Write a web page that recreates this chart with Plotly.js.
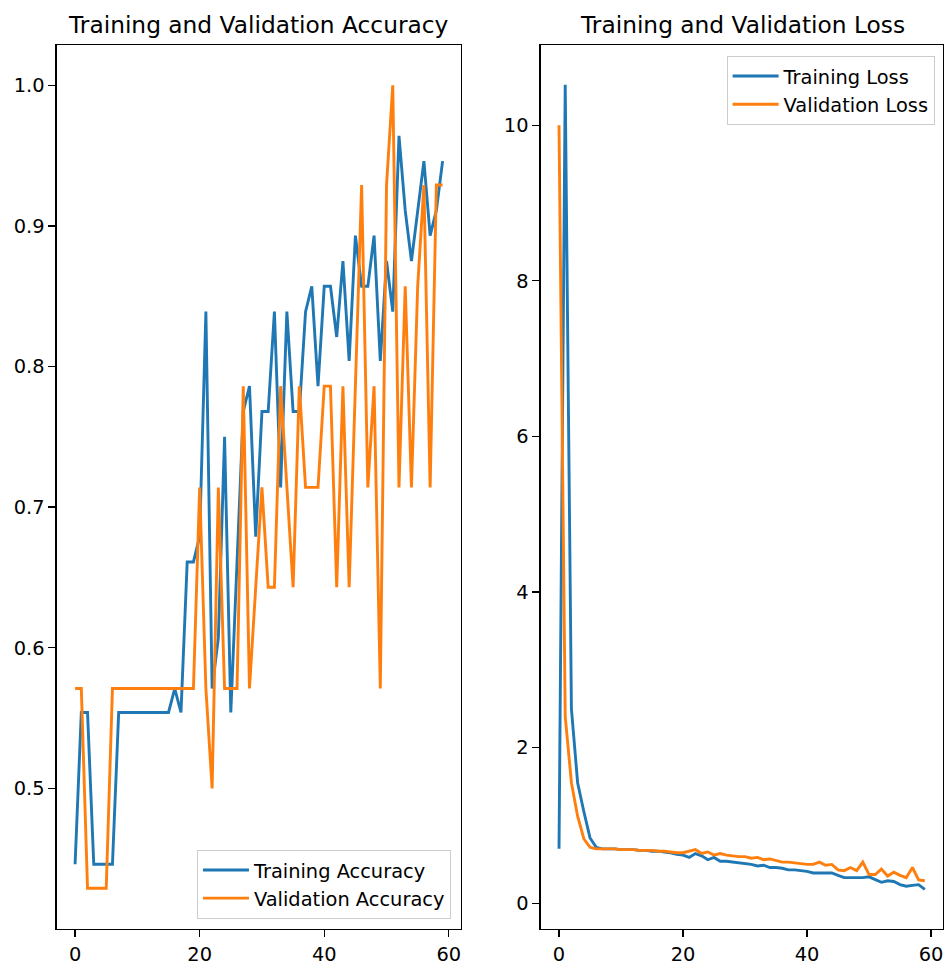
<!DOCTYPE html>
<html>
<head>
<meta charset="utf-8">
<script src="https://cdn.plot.ly/plotly-3.0.1.min.js"></script>
<style>html,body{margin:0;padding:0;background:#fff;}#chart{width:945px;height:962px;}</style>
</head>
<body>
<div id="chart"></div>
<script>
const epochs = [0,1,2,3,4,5,6,7,8,9,10,11,12,13,14,15,16,17,18,19,20,21,22,23,24,25,26,27,28,29,30,31,32,33,34,35,36,37,38,39,40,41,42,43,44,45,46,47,48,49,50,51,52,53,54,55,56,57,58,59];

const trainAcc = [0.446,0.554,0.554,0.446,0.446,0.446,0.446,0.554,0.554,0.554,
  0.554,0.554,0.554,0.554,0.554,0.554,0.571,0.554,0.661,0.661,
  0.679,0.839,0.571,0.607,0.750,0.554,0.661,0.768,0.786,0.679,
  0.768,0.768,0.839,0.714,0.839,0.768,0.768,0.839,0.857,0.786,
  0.857,0.857,0.821,0.875,0.804,0.893,0.857,0.857,0.893,0.804,
  0.875,0.839,0.964,0.911,0.875,0.911,0.946,0.893,0.911,0.946];

const valAcc = [0.571,0.571,0.429,0.429,0.429,0.429,0.571,0.571,0.571,0.571,
  0.571,0.571,0.571,0.571,0.571,0.571,0.571,0.571,0.571,0.571,
  0.714,0.571,0.500,0.714,0.571,0.571,0.571,0.786,0.571,0.643,
  0.714,0.643,0.643,0.786,0.714,0.643,0.786,0.714,0.714,0.714,
  0.786,0.786,0.643,0.786,0.643,0.786,0.929,0.714,0.786,0.571,
  0.929,1.000,0.714,0.857,0.714,0.857,0.929,0.714,0.929,0.929];

const trainLoss = [0.70,10.52,2.50,1.55,1.18,0.84,0.72,0.70,0.70,0.70,
  0.69,0.69,0.69,0.68,0.68,0.67,0.67,0.66,0.65,0.63,
  0.62,0.59,0.64,0.61,0.56,0.59,0.54,0.54,0.53,0.52,
  0.51,0.50,0.48,0.49,0.46,0.46,0.45,0.43,0.43,0.42,
  0.41,0.39,0.39,0.39,0.39,0.36,0.33,0.33,0.33,0.33,
  0.34,0.30,0.27,0.29,0.28,0.24,0.22,0.23,0.24,0.18];

const valLoss = [10.00,2.40,1.55,1.12,0.83,0.72,0.70,0.70,0.70,0.70,
  0.69,0.69,0.69,0.68,0.68,0.68,0.67,0.67,0.66,0.65,
  0.65,0.67,0.69,0.64,0.66,0.62,0.64,0.62,0.61,0.60,
  0.60,0.58,0.59,0.56,0.57,0.55,0.53,0.53,0.52,0.51,
  0.50,0.50,0.53,0.49,0.50,0.43,0.42,0.46,0.42,0.53,
  0.37,0.37,0.44,0.35,0.40,0.36,0.33,0.46,0.30,0.29];

const accTicks = [0.5,0.6,0.7,0.8,0.9,1.0];
const lossTicks = [0,2,4,6,8,10];
const xTicks = [0,20,40,60];

const blue = '#1f77b4', orange = '#ff7f0e';
const FONT = 'DejaVu Sans, Liberation Sans, sans-serif';
const tickFont = {family: FONT, size: 19.4, color: '#000'};

const traces = [
  {x: epochs, y: trainAcc, type: 'scatter', mode: 'lines', name: 'Training Accuracy',
   line: {color: blue, width: 2.9}, xaxis: 'x', yaxis: 'y', legend: 'legend'},
  {x: epochs, y: valAcc, type: 'scatter', mode: 'lines', name: 'Validation Accuracy',
   line: {color: orange, width: 2.9}, xaxis: 'x', yaxis: 'y', legend: 'legend'},
  {x: epochs, y: trainLoss, type: 'scatter', mode: 'lines', name: 'Training Loss',
   line: {color: blue, width: 2.9}, xaxis: 'x2', yaxis: 'y2', legend: 'legend2'},
  {x: epochs, y: valLoss, type: 'scatter', mode: 'lines', name: 'Validation Loss',
   line: {color: orange, width: 2.9}, xaxis: 'x2', yaxis: 'y2', legend: 'legend2'}
];

const axisCommon = {
  showgrid: false, zeroline: false, showline: true, mirror: true,
  linecolor: '#000', linewidth: 1.3, ticks: 'outside', ticklen: 7, tickwidth: 1.3,
  tickcolor: '#000', tickfont: tickFont, automargin: false
};

const legendCommon = {
  bgcolor: 'rgba(255,255,255,0.8)', bordercolor: '#cccccc', borderwidth: 1,
  font: {family: FONT, size: 19.4, color: '#000'}, itemwidth: 46,
  xref: 'paper', yref: 'paper', tracegroupgap: 0
};

const layout = {
  width: 945, height: 962,
  margin: {l: 0, r: 0, t: 45, b: 33},
  paper_bgcolor: '#fff', plot_bgcolor: '#fff',
  font: {family: FONT, color: '#000'},
  showlegend: true,
  xaxis: Object.assign({}, axisCommon, {domain: [0.06, 0.4878], range: [-2.95, 61.95],
    tickvals: xTicks, anchor: 'y'}),
  yaxis: Object.assign({}, axisCommon, {domain: [0, 1], range: [0.4, 1.0286],
    tickvals: accTicks, tickformat: '.1f', anchor: 'x'}),
  xaxis2: Object.assign({}, axisCommon, {domain: [0.5722, 0.998], range: [-2.95, 61.95],
    tickvals: xTicks, anchor: 'y2'}),
  yaxis2: Object.assign({}, axisCommon, {domain: [0, 1], range: [-0.33, 11.03],
    tickvals: lossTicks, anchor: 'x2'}),
  legend: Object.assign({}, legendCommon, {x: 0.4772, xanchor: 'right', y: 0.0115, yanchor: 'bottom'}),
  legend2: Object.assign({}, legendCommon, {x: 0.989, xanchor: 'right', y: 0.9876, yanchor: 'top'}),
  annotations: [
    {text: 'Training and Validation Accuracy', xref: 'paper', yref: 'paper', x: 0.2739, y: 1,
     xanchor: 'center', yanchor: 'middle', yshift: 21, showarrow: false,
     font: {family: FONT, size: 23.3, color: '#000'}},
    {text: 'Training and Validation Loss', xref: 'paper', yref: 'paper', x: 0.7852, y: 1,
     xanchor: 'center', yanchor: 'middle', yshift: 21, showarrow: false,
     font: {family: FONT, size: 23.3, color: '#000'}}
  ]
};

Plotly.newPlot('chart', traces, layout, {staticPlot: true, displayModeBar: false});
</script>
</body>
</html>
